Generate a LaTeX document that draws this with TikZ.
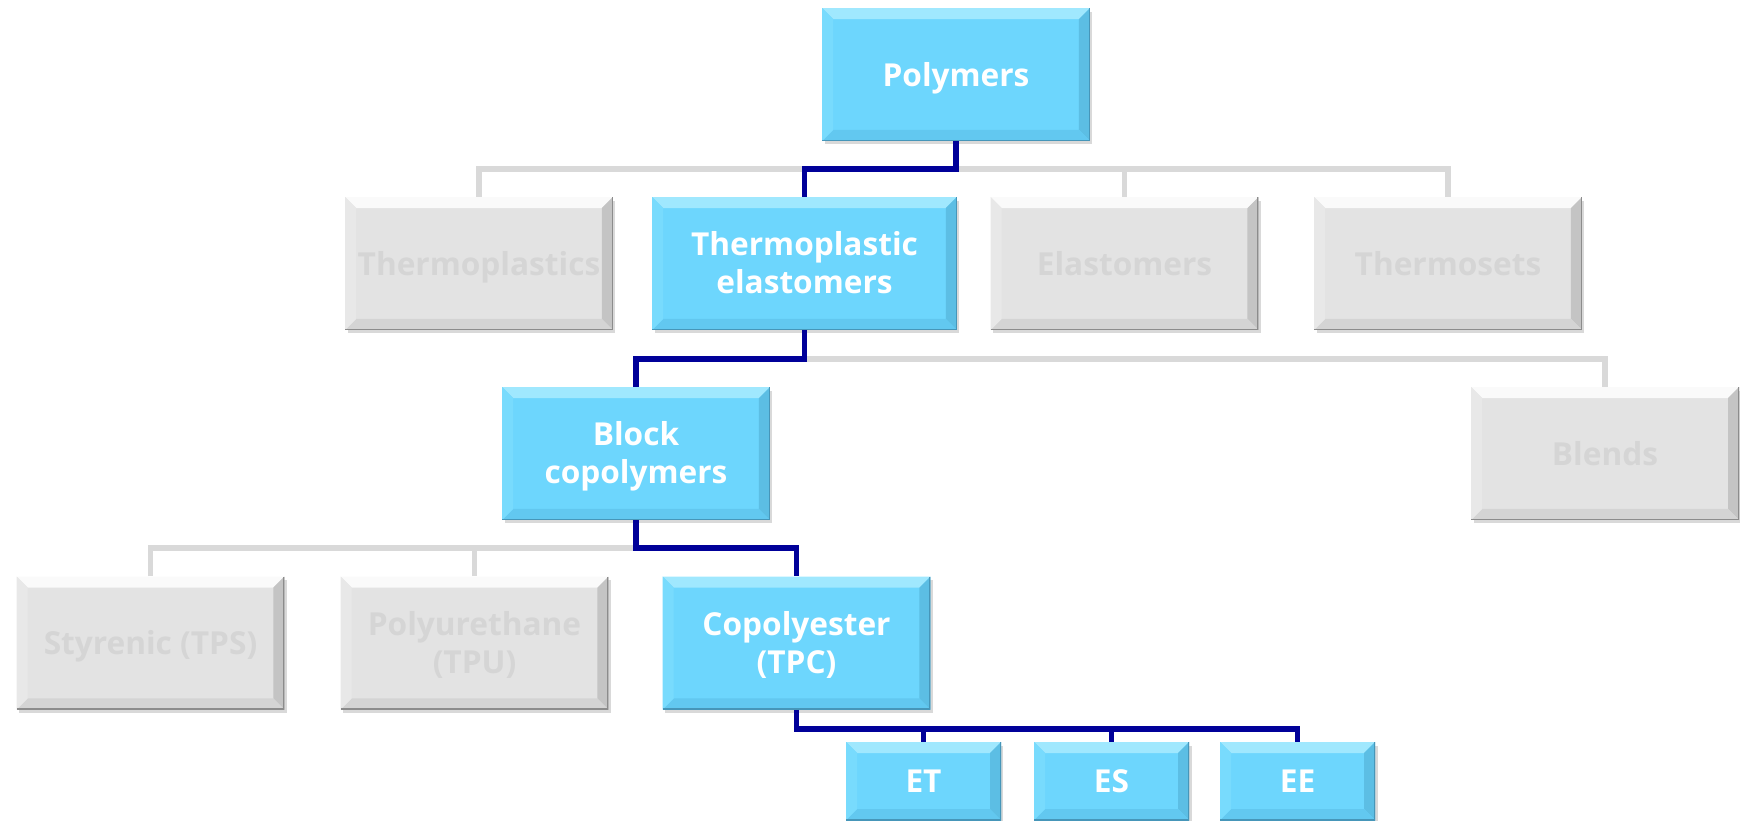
\documentclass[tikz,border=0pt]{standalone}
\usepackage{fontspec}
\setmainfont{Open Sans}
\usetikzlibrary{shadows}

\definecolor{tpfill}{RGB}{109,214,253}
\definecolor{tptop}{RGB}{160,232,254}
\definecolor{tpleft}{RGB}{120,219,253}
\definecolor{tpright}{RGB}{92,190,228}
\definecolor{tpbot}{RGB}{98,200,240}
\definecolor{tpedge}{RGB}{70,150,185}
\definecolor{grfill}{RGB}{227,227,227}
\definecolor{grtop}{RGB}{250,250,250}
\definecolor{grleft}{RGB}{232,232,232}
\definecolor{grright}{RGB}{196,196,196}
\definecolor{grbot}{RGB}{212,212,212}
\definecolor{gredge}{RGB}{140,140,140}
\definecolor{grtext}{RGB}{213,213,213}
\definecolor{linkhot}{RGB}{0,0,153}
\definecolor{linkcold}{RGB}{217,217,217}

\newlength{\bev}
\setlength{\bev}{0.22cm}
\newcommand{\twolines}[2]{\rule{0pt}{30pt}\begin{tabular}{@{}c@{}}#1\\#2\end{tabular}}

\tikzset{
	bevel/.style={path picture={
		\coordinate (pp1) at (path picture bounding box.north west);
		\coordinate (pp2) at (path picture bounding box.north east);
		\coordinate (pp3) at (path picture bounding box.south east);
		\coordinate (pp4) at (path picture bounding box.south west);
		\fill[#1top] (pp1) -- (pp2) -- ([shift={(-\bev,-\bev)}]pp2) -- ([shift={(\bev,-\bev)}]pp1) -- cycle;
		\fill[#1right] (pp2) -- (pp3) -- ([shift={(-\bev,\bev)}]pp3) -- ([shift={(-\bev,-\bev)}]pp2) -- cycle;
		\fill[#1bot] (pp3) -- (pp4) -- ([shift={(\bev,\bev)}]pp4) -- ([shift={(-\bev,\bev)}]pp3) -- cycle;
		\fill[#1left] (pp4) -- (pp1) -- ([shift={(\bev,-\bev)}]pp1) -- ([shift={(\bev,\bev)}]pp4) -- cycle;
		\draw[#1edge, line width=0.05cm] (pp2) -- (pp3) -- (pp4);
	}},
	box/.style={rectangle, minimum width=5.36cm, minimum height=2.66cm, inner sep=0pt,
		font=\bfseries\fontsize{18}{21.6}\selectfont,
		execute at begin node={\rule{0pt}{19.6pt}}, execute at end node={\rule[-6.5pt]{0pt}{6.5pt}},
		drop shadow={shadow xshift=0.05cm, shadow yshift=-0.07cm, opacity=0.3}},
	tpbox/.style={box, fill=tpfill, text=white, bevel=tp},
	grbox/.style={box, fill=grfill, text=grtext, bevel=gr},
	leaf/.style={tpbox, minimum width=3.1cm, minimum height=1.56cm},
	hot/.style={draw=linkhot, line width=0.11cm},
	cold/.style={draw=linkcold, line width=0.11cm},
}

\begin{document}
\begin{tikzpicture}[x=0.02cm, y=-0.02cm]
	\useasboundingbox (0,0) rectangle (1740,821);
	\node[tpbox] (poly) at (956,74.5) {Polymers};
	\node[grbox] (tpl) at (479,263.5) {Thermoplastics};
	\node[tpbox, minimum width=6.1cm] (tpe) at (804.5,263.5) {\twolines{Thermoplastic}{elastomers}};
	\node[grbox] (elas) at (1124.5,263.5) {Elastomers};
	\node[grbox] (tset) at (1448,263.5) {Thermosets};
	\node[tpbox] (block) at (636,453.5) {\twolines{Block}{copolymers}};
	\node[grbox] (blend) at (1605,453.5) {Blends};
	\node[grbox] (tps) at (150.5,643) {Styrenic (TPS)};
	\node[grbox] (tpu) at (474.5,643) {\twolines{Polyurethane}{(TPU)}};
	\node[tpbox] (tpc) at (796.5,643) {\twolines{Copolyester}{(TPC)}};
	\node[leaf] (et) at (923.5,781) {ET};
	\node[leaf] (es) at (1111.5,781) {ES};
	\node[leaf] (ee) at (1297.5,781) {EE};

	\coordinate (r1) at (0,169);
	\coordinate (r2) at (0,359);
	\coordinate (r3) at (0,548);
	\coordinate (r4) at (0,729);

	\draw[cold] (tpl.north) -- (tpl.north |- r1) -| (tset.north);
	\draw[cold] (elas.north) -- (elas.north |- r1);
	\draw[hot] (poly.south) -- (poly.south |- r1) -| (tpe.north);
	\draw[cold] (tpe.south) -- (tpe.south |- r2) -| (blend.north);
	\draw[hot] (tpe.south) -- (tpe.south |- r2) -| (block.north);
	\draw[cold] (tps.north) |- (block.south |- r3);
	\draw[cold] (tpu.north) -- (tpu.north |- r3);
	\draw[hot] (block.south) -- (block.south |- r3) -| (tpc.north);
	\draw[hot] (tpc.south) -- (tpc.south |- r4) -| (ee.north);
	\draw[hot] (et.north) -- (et.north |- r4);
	\draw[hot] (es.north) -- (es.north |- r4);
\end{tikzpicture}
\end{document}
